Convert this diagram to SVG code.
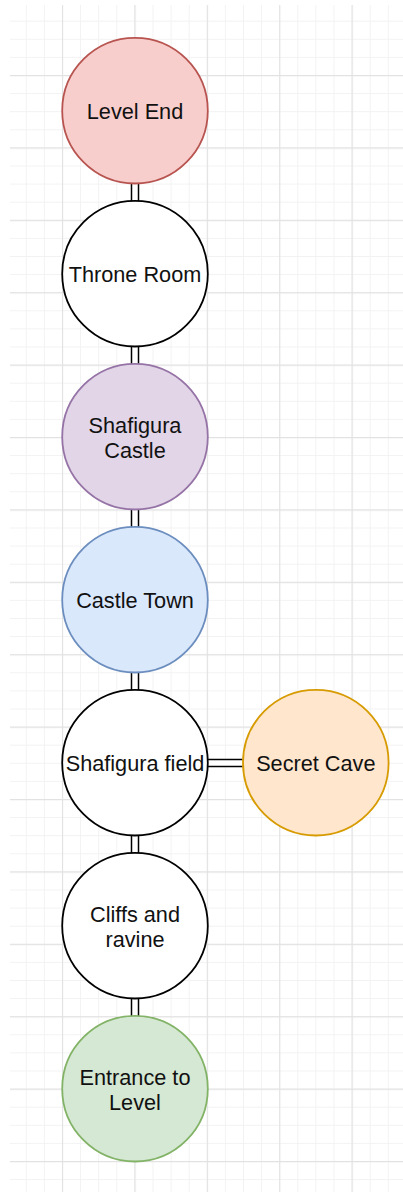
<svg xmlns="http://www.w3.org/2000/svg" width="403" height="1192" viewBox="0 0 403 1192">
  <defs>
    <!-- minor grid: 18.1 px cells, major every 4 cells -->
    <pattern id="minor" x="7.7" y="2.6" width="18.1" height="18.1" patternUnits="userSpaceOnUse">
      <path d="M0 0.5H18.1M0.5 0V18.1" fill="none" stroke="#f2f2f2" stroke-width="1"/>
    </pattern>
    <pattern id="major" x="62" y="75" width="72.4" height="72.4" patternUnits="userSpaceOnUse">
      <path d="M0 0.5H72.4M0.5 0V72.4" fill="none" stroke="#e2e2e2" stroke-width="1.3"/>
    </pattern>
  </defs>
  <style>
    .node circle { stroke-width: 1.8; }
    .node text { font-family: "Liberation Sans", Arial, Helvetica, sans-serif; font-size: 21.7px; fill: #111; text-anchor: middle; }
    .link-outer { stroke: #000; stroke-width: 8.5; fill: none; }
    .link-inner { stroke: #fff; stroke-width: 5.5; fill: none; }
  </style>

  <rect width="403" height="1192" fill="#fff"/>
  <rect x="10" y="5" width="393" height="1187" fill="url(#minor)"/>
  <rect x="10" y="5" width="393" height="1187" fill="url(#major)"/>

  <!-- double-line links between areas -->
  <g id="connectors">
    <path class="link-outer" d="M135 183.5V200.9M135 346.5V363.9M135 509.5V526.9M135 672.5V689.9M135 835.5V852.9M135 998.5V1015.9M207.8 763H242.6"/>
    <path class="link-inner" d="M135 182V202.4M135 345V365.4M135 508V528.4M135 671V691.4M135 834V854.4M135 997V1017.4M206.3 763H244.1"/>
  </g>

  <g id="level-end" class="node">
    <circle cx="135" cy="110.7" r="72.8" fill="#f8cecc" stroke="#b85450"/>
    <text x="135" y="118.7">Level End</text>
  </g>
  <g id="throne-room" class="node">
    <circle cx="135" cy="273.7" r="72.8" fill="#ffffff" stroke="#000000"/>
    <text x="135" y="281.7">Throne Room</text>
  </g>
  <g id="shafigura-castle" class="node">
    <circle cx="135" cy="436.7" r="72.8" fill="#e1d5e7" stroke="#9673a6"/>
    <text x="135" y="433.3">Shafigura</text>
    <text x="135" y="458.3">Castle</text>
  </g>
  <g id="castle-town" class="node">
    <circle cx="135" cy="599.7" r="72.8" fill="#dae8fc" stroke="#6c8ebf"/>
    <text x="135" y="607.7">Castle Town</text>
  </g>
  <g id="shafigura-field" class="node">
    <circle cx="135" cy="762.7" r="72.8" fill="#ffffff" stroke="#000000"/>
    <text x="135" y="770.7">Shafigura field</text>
  </g>
  <g id="secret-cave" class="node">
    <circle cx="315.8" cy="762.7" r="72.8" fill="#ffe6cc" stroke="#d79b00"/>
    <text x="315.8" y="770.7">Secret Cave</text>
  </g>
  <g id="cliffs-and-ravine" class="node">
    <circle cx="135" cy="925.7" r="72.8" fill="#ffffff" stroke="#000000"/>
    <text x="135" y="922.3">Cliffs and</text>
    <text x="135" y="947.3">ravine</text>
  </g>
  <g id="entrance-to-level" class="node">
    <circle cx="135" cy="1088.7" r="72.8" fill="#d5e8d4" stroke="#82b366"/>
    <text x="135" y="1085.3">Entrance to</text>
    <text x="135" y="1110.3">Level</text>
  </g>
</svg>
